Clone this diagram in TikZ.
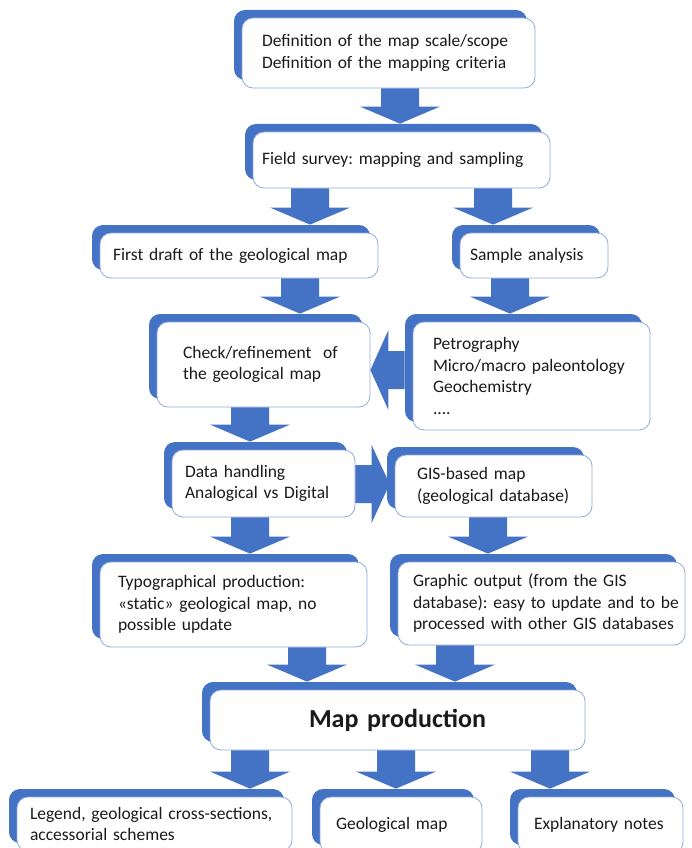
\documentclass[tikz,border=0pt]{standalone}
\usepackage{fontspec}
\setmainfont{Carlito}
\usetikzlibrary{shadows,calc}
\definecolor{blk}{HTML}{4472C4}
\definecolor{bord}{HTML}{8FAADC}
\definecolor{txt}{HTML}{1A1A1A}
\frenchspacing
\newcommand\oneline[1]{\mbox{#1}}
% down arrow: #1 x position, #2 source node, #3 target node
\newcommand\downarr[3]{%
  \coordinate (tx) at (#1,0);
  \coordinate (ts) at (#2.south -| tx);
  \coordinate (tt) at (#3.north -| tx);
  \fill[arr] ([xshift=-19pt]ts) -- ([xshift=-19pt,yshift=25pt]tt) -- ([xshift=-40pt,yshift=25pt]tt)
    -- ([yshift=8pt]tt) -- ([xshift=40pt,yshift=25pt]tt) -- ([xshift=19pt,yshift=25pt]tt)
    -- ([xshift=19pt]ts) -- cycle;}
% left arrow: #1 y position, #2 source (right), #3 target (left)
\newcommand\leftarr[3]{%
  \coordinate (ty) at (0,#1);
  \coordinate (ts) at (#2.west |- ty);
  \coordinate (tt) at (#3.east |- ty);
  \fill[arr] ([xshift=-8pt,yshift=19pt]ts) -- ([xshift=18pt,yshift=19pt]tt) -- ([xshift=18pt,yshift=40pt]tt)
    -- (tt) -- ([xshift=18pt,yshift=-40pt]tt) -- ([xshift=18pt,yshift=-19pt]tt)
    -- ([xshift=-8pt,yshift=-19pt]ts) -- cycle;}
% right arrow: #1 y position, #2 source (left), #3 target (right)
\newcommand\rightarr[3]{%
  \coordinate (ty) at (0,#1);
  \coordinate (ts) at (#2.east |- ty);
  \coordinate (tt) at (#3.west |- ty);
  \fill[arr] ([yshift=19pt]ts) -- ([xshift=-23pt,yshift=19pt]tt) -- ([xshift=-23pt,yshift=39pt]tt)
    -- ([xshift=-5pt]tt) -- ([xshift=-23pt,yshift=-39pt]tt) -- ([xshift=-23pt,yshift=-19pt]tt)
    -- ([yshift=-19pt]ts) -- cycle;}
\begin{document}
\begin{tikzpicture}[x=1pt,y=-1pt,
  box/.style={draw=bord, line width=0.8pt, fill=white, rounded corners=11pt,
    general shadow={fill=blk, shadow xshift=-8pt, shadow yshift=8pt},
    align=left, font=\fontsize{17.5}{21.5}\selectfont\frenchspacing, text=txt, inner ysep=0pt},
  arr/.style={fill=blk}]
\fill[white] (0,0) rectangle (691,848);
\clip (0,0) rectangle (691,848);

\node[box, minimum width=293pt, minimum height=70pt, inner xsep=20pt, text width=253pt] (top) at (388.5,53)
  {\oneline{Definition of the map scale/scope}\\\oneline{Definition of the mapping criteria}};
\node[box, minimum width=297pt, minimum height=56pt, inner xsep=9pt, text width=279pt] (field) at (401.5,160)
  {\oneline{Field survey: mapping and sampling}};
\node[box, minimum width=278pt, minimum height=45pt, inner xsep=13pt, text width=252pt] (draft) at (239,255.5)
  {\oneline{First draft of the geological map}};
\node[box, minimum width=148pt, minimum height=45pt, inner xsep=10pt, text width=128pt] (sample) at (534,255.5)
  {\oneline{Sample analysis}};
\node[box, minimum width=213pt, minimum height=85pt, inner xsep=26pt, text width=161pt] (check) at (263.5,364.5)
  {\oneline{Check/refinement~ of}\\\oneline{the geological map}};
\node[box, minimum width=237pt, minimum height=108pt, inner xsep=20pt, text width=197pt] (petro) at (531.5,376)
  {\oneline{Petrography}\\\oneline{Micro/macro paleontology}\\\oneline{Geochemistry}\\\oneline{....}};
\node[box, minimum width=183pt, minimum height=67pt, inner xsep=13pt, text width=157pt] (data) at (263.5,483.5)
  {\oneline{Data handling}\\\oneline{Analogical vs Digital}};
\node[box, minimum width=197pt, minimum height=62pt, inner xsep=22pt, text width=153pt] (gis) at (493.5,486)
  {\oneline{GIS-based map}\\\oneline{(geological database)}};
\node[box, minimum width=267pt, minimum height=85pt, inner xsep=18pt, text width=231pt] (typo) at (233.5,604.5)
  {\oneline{Typographical production:}\\\oneline{«static» geological map, no}\\\oneline{possible update}};
\node[box, minimum width=287pt, minimum height=83pt, inner xsep=15pt, text width=257pt] (graph) at (541.5,603.5)
  {\oneline{Graphic output (from the GIS}\\\oneline{database): easy to update and to be}\\\oneline{processed with other GIS databases}};
\node[box, align=center, minimum width=375pt, minimum height=60pt, text width=345pt, inner xsep=15pt,
  font=\fontsize{26}{30}\selectfont\bfseries] (map) at (397.5,720) {Map production};
\node[box, minimum width=275pt, minimum height=54pt, inner xsep=13pt, text width=249pt] (legend) at (154.5,824)
  {\oneline{Legend, geological cross-sections,}\\\oneline{accessorial schemes}};
\node[box, minimum width=162pt, minimum height=56pt, inner xsep=16pt, text width=130pt] (geomap) at (401,825)
  {\oneline{Geological map}};
\node[box, minimum width=165pt, minimum height=56pt, inner xsep=16pt, text width=133pt] (explan) at (600.5,825)
  {\oneline{Explanatory notes}};

\downarr{400}{top}{field}
\downarr{310}{field}{draft}
\downarr{493}{field}{sample}
\downarr{300}{draft}{check}
\downarr{510}{sample}{petro}
\leftarr{370}{petro}{check}
\downarr{250}{check}{data}
\rightarr{484}{data}{gis}
\downarr{250}{data}{typo}
\downarr{488}{gis}{graph}
\downarr{307}{typo}{map}
\downarr{455}{graph}{map}
\downarr{250}{map}{legend}
\downarr{396}{map}{geomap}
\downarr{550}{map}{explan}
\end{tikzpicture}
\end{document}
